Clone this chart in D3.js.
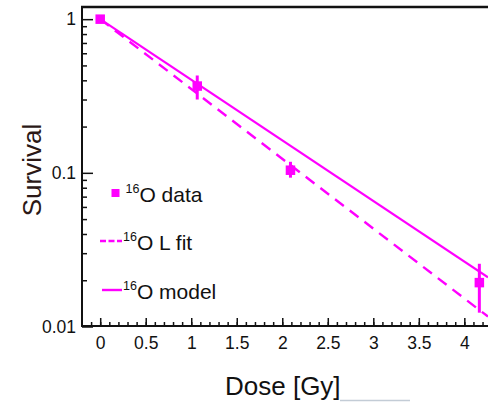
<!DOCTYPE html>
<html>
<head>
<meta charset="utf-8">
<script src="https://cdn.jsdelivr.net/npm/d3@7"></script>
<style>
  html, body { margin: 0; padding: 0; background: #fff; }
  svg { display: block; font-family: "Liberation Sans", Arial, sans-serif; }
</style>
</head>
<body>
<svg id="chart" width="488" height="402"></svg>
<script>
// Measured cell survival after 16O irradiation
const dose = [0, 1.066, 2.09, 4.165];
const survival = [1.0, 0.367, 0.104, 0.0193];
const errLow = [1.0, 0.30, 0.093, 0.0123];
const errHigh = [1.0, 0.43, 0.118, 0.0256];

// Fitted curves (straight on the log axis), given at their end doses
const curveDose = [0, 4.26];
const fitSurvival = [1.0, 0.0116];    // linear (L) fit
const modelSurvival = [1.0, 0.0209];  // model prediction

const xTicks = [0, 0.5, 1, 1.5, 2, 2.5, 3, 3.5, 4];
const yTicks = [0.01, 0.1, 1];
const yTickLabels = ["0.01", "0.1", "1"];

const legendLabels = ["O data", "O L fit", "O model"];

const magenta = "#ff00ff";
const svg = d3.select("#chart");

const x = d3.scaleLinear().domain([-0.2, 4.26]).range([82, 488]);
const y = d3.scaleLog().domain([0.01, 1.2]).range([326.5, 7]);

// clip for curves
svg.append("defs").append("clipPath").attr("id", "clip")
  .append("rect").attr("x", 82).attr("y", 7).attr("width", 406).attr("height", 320);

// x axis: minor ticks every 0.1, major every 0.5, pointing inward
const xMinor = d3.range(-1, 43).map(i => i / 10).filter(v => v > -0.2 && v < 4.26);
const xAxisMinor = d3.axisBottom(x).tickValues(xMinor).tickSize(-4).tickFormat("");
const xAxisMajor = d3.axisBottom(x).tickValues(xTicks).tickSize(-8).tickPadding(11)
  .tickFormat(d => String(d));

const gxMinor = svg.append("g").attr("transform", "translate(0,326)").call(xAxisMinor);
const gx = svg.append("g").attr("transform", "translate(0,326)").call(xAxisMajor);
[gxMinor, gx].forEach(g => {
  g.select(".domain").remove();
  g.selectAll(".tick line").attr("stroke", "#111").attr("stroke-width", 1.5);
});
gx.selectAll(".tick text").attr("font-size", 17.5).attr("fill", "#111")
  .attr("font-family", "Liberation Sans, Arial, sans-serif");

// y axis: log ticks, minor 2..9 in each decade
const yMinor = [];
[0.01, 0.1].forEach(dec => { for (let k = 2; k <= 9; k++) yMinor.push(dec * k); });
const yAxisMinor = d3.axisLeft(y).tickValues(yMinor).tickSize(-5).tickFormat("");
const yAxisMajor = d3.axisLeft(y).tickValues(yTicks).tickSize(-11).tickPadding(6)
  .tickFormat((d, i) => yTickLabels[i]);
const gyMinor = svg.append("g").attr("transform", "translate(82,0)").call(yAxisMinor);
const gy = svg.append("g").attr("transform", "translate(82,0)").call(yAxisMajor);
[gyMinor, gy].forEach(g => {
  g.select(".domain").remove();
  g.selectAll(".tick line").attr("stroke", "#111").attr("stroke-width", 1.5);
});
gy.selectAll(".tick text").attr("font-size", 17.5).attr("fill", "#111")
  .attr("font-family", "Liberation Sans, Arial, sans-serif");

// frame lines: left axis, bottom axis, top border
svg.append("line").attr("x1", 82).attr("x2", 82).attr("y1", 6).attr("y2", 327)
  .attr("stroke", "#111").attr("stroke-width", 2);
svg.append("line").attr("x1", 81).attr("x2", 488).attr("y1", 326).attr("y2", 326)
  .attr("stroke", "#111").attr("stroke-width", 2);
svg.append("line").attr("x1", 81).attr("x2", 488).attr("y1", 7).attr("y2", 7)
  .attr("stroke", "#111").attr("stroke-width", 2.5);

// curves
const line = d3.line().x(d => x(d[0])).y(d => y(d[1]));
const curves = svg.append("g").attr("clip-path", "url(#clip)");
curves.append("path")
  .datum(curveDose.map((d, i) => [d, fitSurvival[i]]))
  .attr("d", line).attr("fill", "none").attr("stroke", magenta)
  .attr("stroke-width", 2.4).attr("stroke-dasharray", "11,7.5");
curves.append("path")
  .datum(curveDose.map((d, i) => [d, modelSurvival[i]]))
  .attr("d", line).attr("fill", "none").attr("stroke", magenta)
  .attr("stroke-width", 2.2);

// data: error bars and squares
const pts = dose.map((d, i) => ({ d, s: survival[i], lo: errLow[i], hi: errHigh[i] }));
svg.append("g").selectAll("line").data(pts).join("line")
  .attr("x1", p => x(p.d)).attr("x2", p => x(p.d))
  .attr("y1", p => y(p.hi)).attr("y2", p => y(p.lo))
  .attr("stroke", magenta).attr("stroke-width", 3);
const sq = 9.5;
svg.append("g").selectAll("rect").data(pts).join("rect")
  .attr("x", p => x(p.d) - sq / 2).attr("y", p => y(p.s) - sq / 2)
  .attr("width", sq).attr("height", sq).attr("fill", magenta);

// legend
const legendRows = [193, 241, 290];
const lg = svg.append("g");
lg.append("rect").attr("x", 111.5).attr("y", legendRows[0] - 4).attr("width", 8).attr("height", 8)
  .attr("fill", magenta);
lg.append("line").attr("x1", 100).attr("x2", 122).attr("y1", legendRows[1]).attr("y2", legendRows[1])
  .attr("stroke", magenta).attr("stroke-width", 2.4).attr("stroke-dasharray", "6,2.5");
lg.append("line").attr("x1", 102).attr("x2", 122).attr("y1", legendRows[2]).attr("y2", legendRows[2])
  .attr("stroke", magenta).attr("stroke-width", 2.4);

legendLabels.forEach((lab, i) => {
  const base = legendRows[i] + 8.5;
  const t = lg.append("text").attr("x", i === 0 ? 125.5 : 123).attr("y", base)
    .attr("fill", "#111").attr("font-size", 21);
  t.append("tspan").attr("font-size", 12.5).attr("dy", -9).text("16");
  t.append("tspan").attr("dy", 9).text(lab);
});

// axis titles
svg.append("text").attr("x", 225).attr("y", 395).attr("font-size", 26)
  .attr("fill", "#111").text("Dose [Gy]");
svg.append("line").attr("x1", 340).attr("x2", 410).attr("y1", 400.5).attr("y2", 400.5)
  .attr("stroke", "#c3ccd6").attr("stroke-width", 1.5);
svg.append("text").attr("transform", "translate(41,170) rotate(-90)")
  .attr("text-anchor", "middle").attr("font-size", 26).attr("fill", "#2b1816")
  .text("Survival");
</script>
</body>
</html>
